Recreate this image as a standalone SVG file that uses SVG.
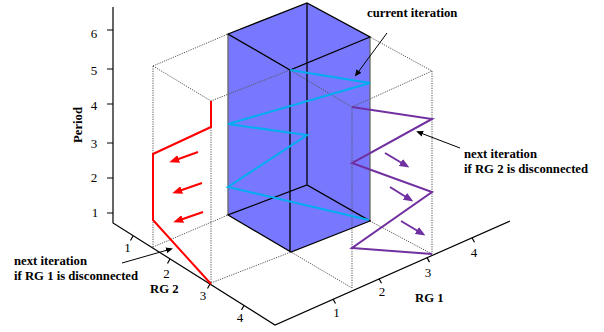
<svg xmlns="http://www.w3.org/2000/svg" width="604" height="332" viewBox="0 0 604 332">
<style>
.dot{stroke:#555;stroke-width:1;stroke-dasharray:1.2 1.2;fill:none}
.ax{stroke:#000;stroke-width:1.2;fill:none}
.edge{stroke:#000;stroke-width:1.3;fill:none}
.gedge{stroke:#666;stroke-width:1.3;fill:none}
.red{stroke:#ff0000;stroke-width:2;fill:none}
.cyan{stroke:#00aeef;stroke-width:2;fill:none}
.pur{stroke:#7030a0;stroke-width:2;fill:none}
.lbl{font-family:"Liberation Serif","Times New Roman",serif;font-size:12.7px;font-weight:bold;fill:#000}
.num{font-family:"Liberation Serif","Times New Roman",serif;font-size:13px;fill:#000;text-anchor:middle}
</style>
<defs>
<marker id="ahR" markerUnits="userSpaceOnUse" markerWidth="10" markerHeight="8" refX="6" refY="4" orient="auto"><path d="M0,0 L10,4 L0,8 z" fill="#ff0000"/></marker>
<marker id="ahP" markerUnits="userSpaceOnUse" markerWidth="10" markerHeight="8" refX="6" refY="4" orient="auto"><path d="M0,0 L10,4 L0,8 z" fill="#7030a0"/></marker>
<marker id="ahK" markerUnits="userSpaceOnUse" markerWidth="7" markerHeight="6" refX="5" refY="3" orient="auto"><path d="M0,0 L7,3 L0,6 z" fill="#000"/></marker>
</defs>
<rect width="604" height="332" fill="#fff"/>

<g id="block">
<polygon points="228,34 307,3 370,37 370,221 291,252 228,215" fill="#7878ff"/>
</g>

<g id="axes">
<path class="ax" d="M113,7 V223 L275,325 L510,221"/>
<path class="ax" d="M107,30 H113 M107,69 H113 M107,104 H113 M107,143 H113 M107,178 H113 M107,213 H113"/>
<path class="ax" d="M133,236 l-2.5,4.5 M170,259 l-2.5,4.5 M210,284 l-2.5,4.5 M244,305.5 l-2.5,4.5"/>
<path class="ax" d="M333,299 l2.5,4.5 M379,278.7 l2.5,4.5 M427,257.6 l2.5,4.5 M472,237.7 l2.5,4.5"/>
<text class="num" x="94" y="38">6</text>
<text class="num" x="94" y="75">5</text>
<text class="num" x="94" y="110">4</text>
<text class="num" x="94" y="148">3</text>
<text class="num" x="94" y="182">2</text>
<text class="num" x="95" y="217">1</text>
<text class="num" x="127.5" y="252">1</text>
<text class="num" x="166.5" y="278">2</text>
<text class="num" x="203" y="300">3</text>
<text class="num" x="240" y="322">4</text>
<text class="num" x="336.5" y="317">1</text>
<text class="num" x="382" y="296">2</text>
<text class="num" x="428" y="277">3</text>
<text class="num" x="474" y="257">4</text>
<text class="lbl" transform="translate(82,125) rotate(-90)" text-anchor="middle">Period</text>
<text class="lbl" x="150" y="293">RG 2</text>
<text class="lbl" x="415" y="302">RG 1</text>
</g>

<g id="grid">
<path class="dot" d="M153,66 L228,34 M153,66 L211,101 L290,70 M153,66 V247 M211,101 V283 M153,247 L228,215 M211,283 L291,252 L352,288 M290,70 L352,107 L432,71 L370,37 M352,107 V288 M432,71 V254 M370,221 L432,254"/>
</g>

<g id="box-edges">
<path class="gedge" d="M228,34 V215 M370,37 V221"/>
<path class="edge" d="M228,34 L307,3 L370,37 L290,70 Z M307,3 V185 M290,70 V252 M228,215 L291,252 L370,221 L307,185 Z"/>
</g>

<g id="current">
<path class="cyan" d="M290,70 L370,83 L228,124 L307,135 L228,187 L369,220"/>
</g>

<g id="next-rg1">
<path class="red" d="M211,101 V127 L153,154 V220 L211,284"/>
</g>

<g id="next-rg2">
<path class="pur" d="M352,107 L432,119 L352,163 L432,192 L352,248 L432,254"/>
</g>

<g id="connectors">
<line class="red" stroke-width="2.5" x1="198" y1="152" x2="173" y2="161" marker-end="url(#ahR)"/>
<line class="red" stroke-width="2.5" x1="202" y1="183" x2="176" y2="192" marker-end="url(#ahR)"/>
<line class="red" stroke-width="2.5" x1="203" y1="212" x2="177" y2="221" marker-end="url(#ahR)"/>
<line class="pur" stroke-width="2.5" x1="385" y1="153" x2="406" y2="165.5" marker-end="url(#ahP)"/>
<line class="pur" stroke-width="2.5" x1="390" y1="187" x2="410" y2="199.5" marker-end="url(#ahP)"/>
<line class="pur" stroke-width="2.5" x1="401" y1="221" x2="422" y2="233.5" marker-end="url(#ahP)"/>
<line stroke="#000" stroke-width="1" x1="387" y1="33" x2="356" y2="75" marker-end="url(#ahK)"/>
<line stroke="#000" stroke-width="1" x1="460" y1="148" x2="418" y2="132" marker-end="url(#ahK)"/>
<line stroke="#000" stroke-width="1" x1="122" y1="263" x2="171" y2="249" marker-end="url(#ahK)"/>
</g>

<g id="labels">
<text class="lbl" x="367" y="17">current iteration</text>
<text class="lbl" x="464" y="158">next iteration</text>
<text class="lbl" x="464" y="173">if RG 2 is disconnected</text>
<text class="lbl" x="14" y="265">next iteration</text>
<text class="lbl" x="14" y="280">if RG 1 is disconnected</text>
</g>
</svg>
